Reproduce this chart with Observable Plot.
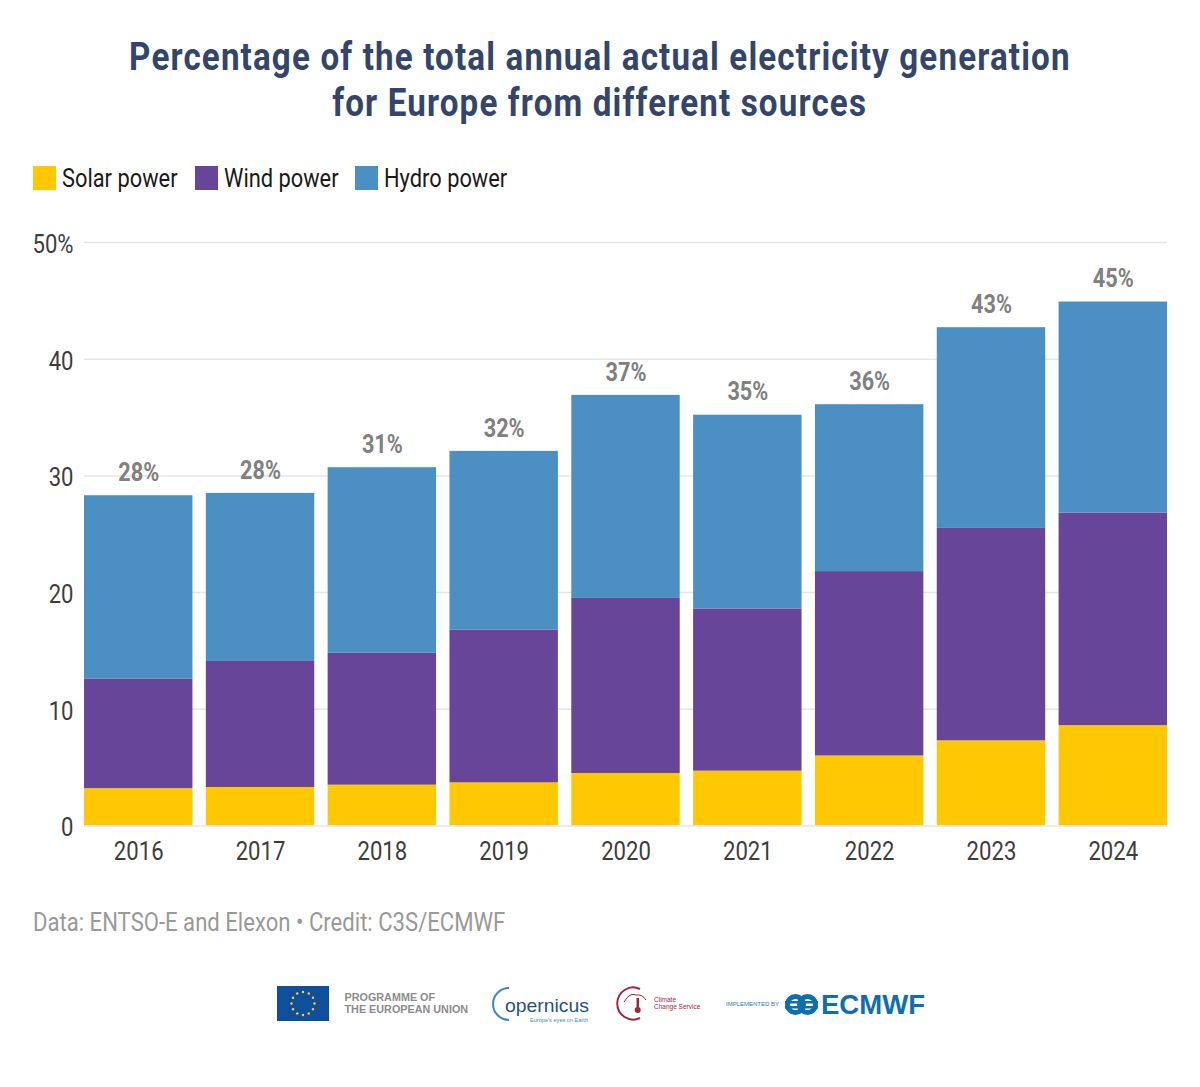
<!DOCTYPE html>
<html><head><meta charset="utf-8">
<script src="https://cdn.jsdelivr.net/npm/d3@7"></script>
<script src="https://cdn.jsdelivr.net/npm/@observablehq/plot@0.6"></script>
<style>
html,body{margin:0;padding:0;background:#fff;font-family:Roboto,sans-serif;}
#page{position:relative;width:1200px;height:1087px;overflow:hidden;}
.sq{display:inline-block;transform-origin:0 50%;white-space:nowrap;}
.title{position:absolute;left:0;width:1200px;text-align:center;font-weight:700;font-size:39px;line-height:46px;color:#34456a;white-space:nowrap;}
.title span{display:inline-block;transform:scaleX(.85);transform-origin:50% 50%;letter-spacing:1.35px;}
.sw{position:absolute;top:166px;width:23px;height:24px;}
.lg{position:absolute;top:163px;font-size:26px;line-height:30px;color:#1a1a1a;transform:scaleX(.84);}
#cap{position:absolute;left:33px;top:907px;font-size:26px;line-height:30px;color:#999;transform:scaleX(.85);}
#chart{position:absolute;left:0;top:200px;}
#logos{position:absolute;left:0;top:970px;}
</style></head><body>
<div id="page">
<div class="title" style="top:34px"><span>Percentage of the total annual actual electricity generation</span></div>
<div class="title" style="top:80px"><span>for Europe from different sources</span></div>
<div class="sw" style="left:33px;background:#ffc800"></div><div class="lg sq" style="left:62px">Solar power</div>
<div class="sw" style="left:195px;background:#674598"></div><div class="lg sq" style="left:224px">Wind power</div>
<div class="sw" style="left:355px;background:#4c8fc2"></div><div class="lg sq" style="left:384px">Hydro power</div>
<div id="chart"></div>
<div id="cap" class="sq">Data: ENTSO-E and Elexon • Credit: C3S/ECMWF</div>
<svg id="logos" width="1200" height="70" font-family="Liberation Sans, sans-serif">
  <rect x="277" y="16" width="52" height="35" fill="#0f4f9c"/>
  <g id="stars" fill="#ffd617"></g>
  <text x="344.500" y="31" font-size="10.800" font-weight="700" fill="#8c8c8c">PROGRAMME OF</text>
  <text x="344.500" y="43" font-size="10.800" font-weight="700" fill="#8c8c8c">THE EUROPEAN UNION</text>
  <path d="M509 18 A16 16 0 1 0 509 50" fill="none" stroke="#3f88bd" stroke-width="2"/>
  <text x="505" y="42" font-size="19" fill="#25517f" textLength="84" lengthAdjust="spacingAndGlyphs">opernicus</text>
  <text x="530" y="52" font-size="6" fill="#3f88bd" textLength="58" lengthAdjust="spacingAndGlyphs">Europe's eyes on Earth</text>
  <path d="M640 19 A16 16 0 1 0 640 48" fill="none" stroke="#a1253f" stroke-width="2"/>
  <path d="M624 32 Q630 22 636 25 Q642 24 646 30" fill="none" stroke="#a1253f" stroke-width="1"/>
  <rect x="636.500" y="28" width="2.500" height="10" fill="#a1253f"/><circle cx="637.700" cy="40" r="3" fill="#a1253f"/>
  <text x="654" y="32" font-size="6.500" fill="#a1253f">Climate</text>
  <text x="654" y="39" font-size="6.500" fill="#a1253f">Change Service</text>
  <text x="726" y="36" font-size="6" fill="#1f7ab5">IMPLEMENTED BY</text>
  <circle cx="795.500" cy="34.500" r="8" fill="none" stroke="#0f6fad" stroke-width="5"/>
  <circle cx="807.500" cy="34.500" r="8" fill="none" stroke="#0f6fad" stroke-width="5"/>
  <rect x="785" y="31" width="33" height="2.500" fill="#0f6fad"/><rect x="785" y="36" width="33" height="2.500" fill="#0f6fad"/>
  <text x="821" y="44" font-size="28" font-weight="700" fill="#0f6fad" textLength="104" lengthAdjust="spacingAndGlyphs">ECMWF</text>
</svg>
</div>
<script>
const years = ["2016","2017","2018","2019","2020","2021","2022","2023","2024"];
const solar = [3.2,3.3,3.5,3.7,4.5,4.7,6.0,7.3,8.6];
const wind  = [9.4,10.8,11.3,13.1,15.0,13.9,15.8,18.2,18.2];
const hydro = [15.7,14.4,15.9,15.3,17.4,16.6,14.3,17.2,18.1];
const totalLabels = ["28%","28%","31%","32%","37%","35%","36%","43%","45%"];
const sources = ["Solar power","Wind power","Hydro power"];
const colors = ["#ffc800","#674598","#4c8fc2"];
const gridTicks = [10,20,30,40,50];

const rows = years.flatMap((year,i)=>[
  {year,source:sources[0],value:solar[i]},
  {year,source:sources[1],value:wind[i]},
  {year,source:sources[2],value:hydro[i]}
]);
const totals = years.map((year,i)=>({year,total:solar[i]+wind[i]+hydro[i],label:totalLabels[i]}));

const plot = Plot.plot({
  width:1200,height:680,
  marginTop:42,marginBottom:54.5,marginLeft:84,marginRight:33,
  style:{fontFamily:"Roboto, sans-serif",background:"transparent"},
  x:{domain:years,paddingInner:0.11,paddingOuter:0,round:false,label:null},
  y:{domain:[0,50],label:null},
  color:{domain:sources,range:colors},
  marks:[
    Plot.ruleY(gridTicks,{stroke:"#e6e6e6",strokeWidth:1.5}),
    Plot.barY(rows,{x:"year",y:"value",fill:"source",order:sources}),
    Plot.ruleY([0],{stroke:"#e6e6e6",strokeWidth:1.5}),
    Plot.axisX({tickSize:0,tickPadding:16,fontSize:26,fill:"#3d3d3d",label:null}),
    Plot.axisY({ticks:[0,10,20,30,40,50],tickSize:0,tickPadding:11,dy:2,fontSize:26,fill:"#3d3d3d",label:null,
      tickFormat:d=>d===50?"50%":String(d)}),
    Plot.text(totals,{x:"year",y:"total",text:"label",dy:-23,fontSize:25.5,fontWeight:700,fill:"#808080",lineAnchor:"middle"})
  ]
});
document.getElementById("chart").appendChild(plot);
// Roboto has no condensed cut installed: narrow the glyphs to match the original face
plot.querySelectorAll("text").forEach(t=>{
  const len=t.getComputedTextLength();
  t.setAttribute("textLength",(len*0.85).toFixed(1));
  t.setAttribute("lengthAdjust","spacingAndGlyphs");
});
// EU flag stars
const st=document.getElementById("stars");
for(let i=0;i<12;i++){
  const a=i*Math.PI/6;
  const c=document.createElementNS("http://www.w3.org/2000/svg","circle");
  c.setAttribute("cx",303+11.5*Math.sin(a));
  c.setAttribute("cy",33.5-11.5*Math.cos(a));
  c.setAttribute("r",1.2);
  st.appendChild(c);
}
</script>
</body></html>
